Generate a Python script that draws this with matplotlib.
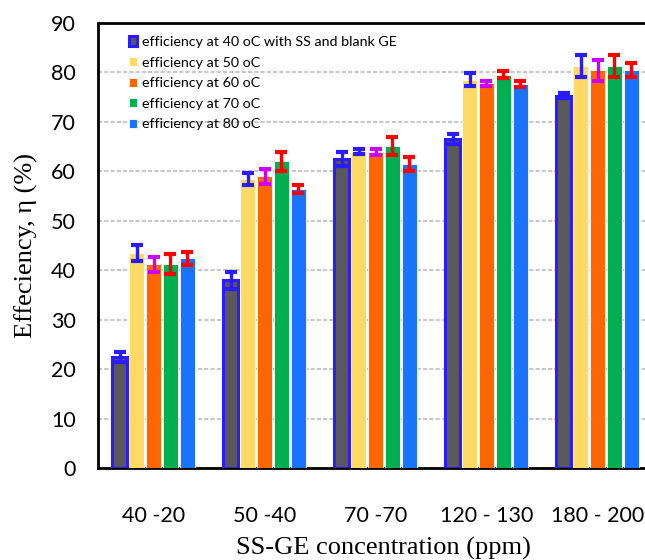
import matplotlib
matplotlib.use("Agg")
import matplotlib.pyplot as plt
import numpy as np

categories = ["40 -20", "50 -40", "70 -70", "120 - 130", "180 - 200"]
series_labels = ["efficiency at 40 oC with SS and blank GE",
                 "efficiency at 50 oC", "efficiency at 60 oC",
                 "efficiency at 70 oC", "efficiency at 80 oC"]
eff_40 = [22.5, 38.0, 62.5, 66.5, 75.3]
eff_50 = [43.5, 58.5, 64.0, 78.5, 81.3]
eff_60 = [41.2, 59.0, 64.0, 77.8, 80.4]
eff_70 = [41.2, 62.0, 65.2, 79.5, 81.3]
eff_80 = [42.4, 56.5, 61.5, 77.7, 80.5]
err_40 = [1.0, 1.7, 1.5, 1.0, 0.5]
err_50 = [1.7, 1.2, 0.5, 1.3, 2.3]
err_60 = [1.5, 1.5, 0.6, 0.5, 2.2]
err_70 = [2.0, 2.0, 1.8, 0.7, 2.3]
err_80 = [1.3, 0.8, 1.5, 0.6, 1.5]

values = [eff_40, eff_50, eff_60, eff_70, eff_80]
errors = [err_40, err_50, err_60, err_70, err_80]
face_colors = ["#595959", "#ffd966", "#ff6600", "#00b050", "#1a73ff"]
edge_colors = ["#2b1bff", "white", "white", "white", "white"]
err_colors = ["#2b1bff", "#2b1bff", "#cc00ff", "#ff0000", "#ff0000"]

fig = plt.figure(figsize=(6.45, 5.6), dpi=100)
ax = fig.add_axes([98/645, (560-468)/560, (653-98)/645, (468-23)/560])

x = np.arange(len(categories))
step = 0.153
width = 0.135
for i in range(5):
    pos = x + (i - 2) * step
    ax.bar(pos, values[i], width=width, color=face_colors[i],
           edgecolor=edge_colors[i], linewidth=2.2 if i == 0 else 0.6,
           label=series_labels[i], zorder=3)
    ax.errorbar(pos, values[i], yerr=errors[i], fmt="none",
                ecolor=err_colors[i], elinewidth=2.4, capsize=4.0,
                capthick=3.0, zorder=4)

ax.set_xlim(-0.5, 4.5)
ax.set_ylim(0, 90)
ax.set_yticks(np.arange(0, 91, 10))
ax.set_xticks(x)
ax.set_xticklabels(categories)
ax.yaxis.grid(True, color="#c8c8c8", linestyle=(0, (2, 1)), linewidth=1.5, zorder=0)
ax.tick_params(axis="both", length=0, labelsize=15.5)
ax.tick_params(axis="y", pad=16)
ax.tick_params(axis="x", pad=27)
for lab in ax.get_xticklabels() + ax.get_yticklabels():
    lab.set_fontfamily("Lato")
for sp in ax.spines.values():
    sp.set_linewidth(2.0)
    sp.set_color("black")

ax.set_xlabel("SS-GE concentration (ppm)", family="Liberation Serif", fontsize=19, labelpad=9)
ax.xaxis.set_label_coords(0.515, -0.155)
ax.set_ylabel("Effeciency, η (%)", family="Liberation Serif", fontsize=19, labelpad=9)

leg = ax.legend(loc="upper left", bbox_to_anchor=(0.04, 0.99), frameon=False,
                prop={"family": "Lato", "size": 10.3}, handlelength=0.6,
                handleheight=0.6, handletextpad=0.35, labelspacing=0.6,
                borderaxespad=0.2)

fig.savefig("out.png", dpi=100)
